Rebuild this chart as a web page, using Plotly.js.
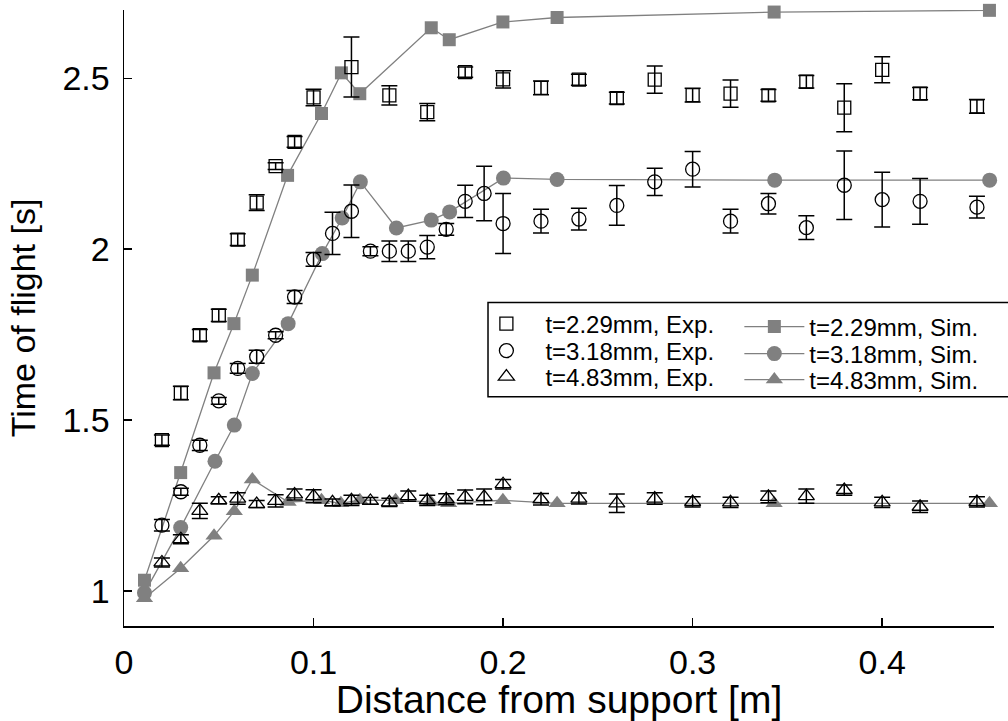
<!DOCTYPE html>
<html>
<head>
<meta charset="utf-8">
<script src="https://cdn.plot.ly/plotly-3.0.1.min.js"></script>
<style>html,body{margin:0;padding:0;background:#fff;}#chart{width:1008px;height:721px;}</style>
</head>
<body>
<div id="chart"></div>
<script>
// ---- Experimental data ----
const expX_229 = [0.02,0.03,0.04,0.05,0.06,0.07,0.08,0.09,0.10,0.12,0.14,0.16,0.18,0.20,0.22,0.24,0.26,0.28,0.30,0.32,0.34,0.36,0.38,0.40,0.42,0.45];
const expY_229 = [1.441,1.579,1.748,1.806,2.028,2.136,2.243,2.314,2.444,2.533,2.450,2.401,2.518,2.497,2.472,2.496,2.442,2.496,2.451,2.455,2.450,2.490,2.414,2.525,2.455,2.418];
const expE_229 = [0.015,0.02,0.017,0.018,0.017,0.023,0.01,0.016,0.024,0.088,0.028,0.025,0.015,0.025,0.02,0.016,0.017,0.04,0.02,0.04,0.017,0.018,0.07,0.038,0.018,0.02];

const expX_318 = [0.02,0.03,0.04,0.05,0.06,0.07,0.08,0.09,0.10,0.11,0.12,0.13,0.14,0.15,0.16,0.17,0.18,0.19,0.20,0.22,0.24,0.26,0.28,0.30,0.32,0.34,0.36,0.38,0.40,0.42,0.45];
const expY_318 = [1.192,1.290,1.426,1.556,1.651,1.685,1.748,1.860,1.970,2.046,2.111,1.994,1.994,1.994,2.006,2.058,2.140,2.163,2.075,2.082,2.088,2.128,2.197,2.234,2.082,2.133,2.063,2.187,2.145,2.140,2.123];
const expE_318 = [0.017,0.01,0.015,0.01,0.014,0.019,0.01,0.019,0.02,0.062,0.077,0.013,0.03,0.03,0.034,0.017,0.047,0.08,0.088,0.035,0.032,0.058,0.04,0.052,0.035,0.03,0.035,0.1,0.08,0.067,0.032];

const expX_483 = [0.02,0.03,0.04,0.05,0.06,0.07,0.08,0.09,0.10,0.11,0.12,0.13,0.14,0.15,0.16,0.17,0.18,0.19,0.20,0.22,0.24,0.26,0.28,0.30,0.32,0.34,0.36,0.38,0.40,0.42,0.45];
const expY_483 = [1.083,1.151,1.234,1.265,1.270,1.254,1.263,1.282,1.277,1.259,1.265,1.263,1.259,1.277,1.265,1.268,1.275,1.275,1.312,1.268,1.270,1.256,1.270,1.260,1.259,1.275,1.277,1.295,1.259,1.246,1.260];
const expE_483 = [0.013,0.013,0.022,0.01,0.017,0.01,0.018,0.016,0.019,0.01,0.015,0.01,0.012,0.015,0.015,0.016,0.02,0.023,0.014,0.017,0.016,0.027,0.017,0.015,0.015,0.017,0.021,0.015,0.015,0.017,0.015];

// ---- Simulation data ----
const simX_229 = [0.0108,0.0299,0.0475,0.058,0.0677,0.0863,0.1042,0.1147,0.1244,0.1621,0.1716,0.1999,0.2285,0.343,0.4566];
const simY_229 = [1.031,1.346,1.638,1.782,1.924,2.216,2.397,2.516,2.455,2.648,2.613,2.665,2.678,2.694,2.699];
const simX_318 = [0.0108,0.0299,0.048,0.0582,0.0677,0.0866,0.1046,0.1151,0.1247,0.1437,0.1621,0.1718,0.2002,0.2285,0.3433,0.4567];
const simY_318 = [0.994,1.185,1.379,1.485,1.636,1.782,1.987,2.091,2.197,2.062,2.085,2.109,2.208,2.204,2.202,2.202];
const simX_483 = [0.0108,0.0299,0.0475,0.0582,0.0677,0.0866,0.1042,0.1144,0.1244,0.1433,0.1618,0.1713,0.1999,0.2285,0.343,0.4566];
const simY_483 = [0.978,1.066,1.161,1.233,1.326,1.260,1.265,1.256,1.265,1.265,1.260,1.256,1.265,1.256,1.256,1.256];

// ---- Labels / ticks ----
const seriesNames = ['t=2.29mm, Exp.','t=3.18mm, Exp.','t=4.83mm, Exp.','t=2.29mm, Sim.','t=3.18mm, Sim.','t=4.83mm, Sim.'];
const xTickVals = [0,0.1,0.2,0.3,0.4];
const xTickText = ['0','0.1','0.2','0.3','0.4'];
const yTickVals = [1,1.5,2,2.5];
const yTickText = ['1','1.5','2','2.5'];
const xTitle = 'Distance from support [m]';
const yTitle = 'Time of flight [s]';

const GRAY = '#808080';
const FONT = '"Liberation Sans", Arial, sans-serif';
const NB = '\u00A0';

function simTrace(x, y, name, symbol, size, leg){
  return {x:x, y:y, name:name, type:'scatter', mode:'lines+markers', legend:leg, cliponaxis:false,
    line:{color:GRAY, width:1.3}, marker:{symbol:symbol, size:size, color:GRAY}};
}
function expTrace(x, y, e, name, symbol, size, leg){
  return {x:x, y:y, name:name, type:'scatter', mode:'markers', legend:leg, cliponaxis:false,
    marker:{symbol:symbol, size:size, color:'#000', line:{color:'#000', width:1.3}},
    error_y:{type:'data', array:e, visible:true, color:'#000', thickness:1.5, width:8}};
}

const data = [
  simTrace(simX_229, simY_229, seriesNames[3], 'square', 13, 'legend4'),
  simTrace(simX_318, simY_318, seriesNames[4], 'circle', 15, 'legend5'),
  simTrace(simX_483, simY_483, seriesNames[5], 'triangle-up', 15, 'legend6'),
  expTrace(expX_229, expY_229, expE_229, seriesNames[0], 'square-open', 13, 'legend'),
  expTrace(expX_318, expY_318, expE_318, seriesNames[1], 'circle-open', 14, 'legend2'),
  expTrace(expX_483, expY_483, expE_483, seriesNames[2], 'triangle-up-open', 14, 'legend3')
];

function leg(x, y, w){
  return {x:x, y:y, xanchor:'left', yanchor:'middle', bgcolor:'rgba(0,0,0,0)', borderwidth:0,
    font:{size:24, family:FONT, color:'#000'}, itemwidth:w, tracegroupgap:0};
}

const layout = {
  width:1008, height:721,
  margin:{l:124, r:14, t:10, b:95},
  paper_bgcolor:'#fff', plot_bgcolor:'#fff',
  font:{family:FONT, color:'#000'},
  showlegend:true,
  xaxis:{range:[0,0.459], showline:true, linecolor:'#000', linewidth:1.5, mirror:false,
    ticks:'inside', ticklen:8, tickwidth:1.5, tickcolor:'#000',
    tickvals:xTickVals, ticktext:xTickText, tickfont:{size:34, family:FONT},
    showgrid:false, zeroline:false, ticklabelstandoff:6,
    title:{text:NB+NB+xTitle, font:{size:39, family:FONT}, standoff:1}},
  yaxis:{range:[0.897,2.70], showline:true, linecolor:'#000', linewidth:1.5, mirror:false,
    ticks:'inside', ticklen:8, tickwidth:1.5, tickcolor:'#000',
    tickvals:yTickVals, ticktext:yTickText, tickfont:{size:34, family:FONT},
    showgrid:false, zeroline:false, ticklabelstandoff:6,
    title:{text:NB+NB+NB+NB+yTitle, font:{size:34, family:FONT}, standoff:16}},
  legend:  leg(0.3947, 0.4903, 68),
  legend2: leg(0.3947, 0.4464, 68),
  legend3: leg(0.3947, 0.4042, 68),
  legend4: leg(0.7073, 0.4854, 60),
  legend5: leg(0.7073, 0.4416, 60),
  legend6: leg(0.7073, 0.3994, 60),
  shapes:[{type:'rect', xref:'paper', yref:'paper', x0:0.4184, x1:1.06, y0:0.372, y1:0.525,
    line:{color:'#000', width:1.5}, fillcolor:'#fff', layer:'below'}]
};

Plotly.newPlot('chart', data, layout, {displayModeBar:false, staticPlot:true});
</script>
</body>
</html>
